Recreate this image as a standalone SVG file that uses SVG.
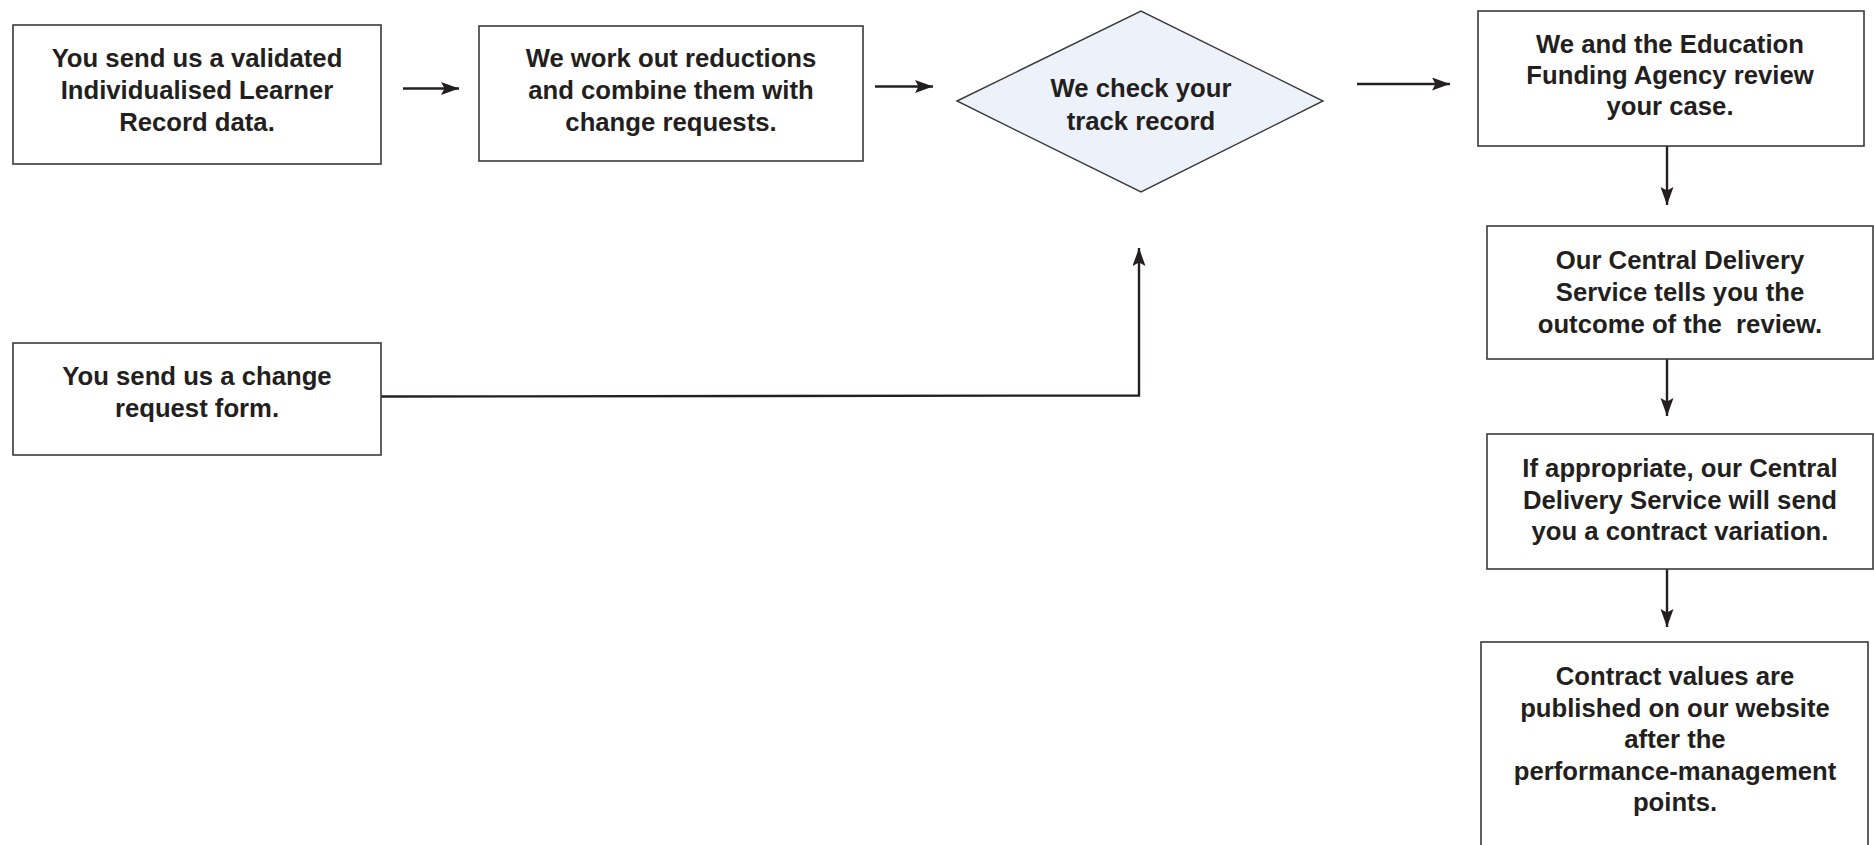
<svg xmlns="http://www.w3.org/2000/svg" width="1874" height="845" viewBox="0 0 1874 845">
<style>
.box{fill:#ffffff;stroke:#3a3a3a;stroke-width:1.6}
.dia{fill:#edf1f9;stroke:#3a3a3a;stroke-width:1.4}
.t{font-family:"Liberation Sans",Arial,Helvetica,sans-serif;font-weight:bold;font-size:25.7px;fill:#231f20;text-anchor:middle}
.c{fill:none;stroke:#231f20;stroke-width:2.4}
</style>
<defs>
<marker id="ah" markerUnits="userSpaceOnUse" markerWidth="20" markerHeight="14" refX="18" refY="6.5" orient="auto">
<path d="M0,0 L18,6.5 L0,13 L3.5,6.5 z" fill="#231f20"/>
</marker>
</defs>
<rect width="1874" height="845" fill="#ffffff"/>
<g id="connectors">
<line class="c" x1="403" y1="88.5" x2="459" y2="88.5" marker-end="url(#ah)"/>
<line class="c" x1="875" y1="86.5" x2="933" y2="86.5" marker-end="url(#ah)"/>
<line class="c" x1="1357" y1="84" x2="1450" y2="84" marker-end="url(#ah)"/>
<line class="c" x1="1667" y1="146" x2="1667" y2="205" marker-end="url(#ah)"/>
<line class="c" x1="1667" y1="359" x2="1667" y2="416" marker-end="url(#ah)"/>
<line class="c" x1="1667" y1="569" x2="1667" y2="627" marker-end="url(#ah)"/>
<polyline class="c" points="381,396.5 1139,395.5 1139,248" marker-end="url(#ah)"/>
</g>
<g id="node1">
<rect class="box" x="13" y="25" width="368" height="139"/>
<text class="t" x="197" y="67">You send us a validated</text>
<text class="t" x="197" y="99">Individualised Learner</text>
<text class="t" x="197" y="131">Record data.</text>
</g>
<g id="node2">
<rect class="box" x="479" y="26" width="384" height="135"/>
<text class="t" x="671" y="67">We work out reductions</text>
<text class="t" x="671" y="99">and combine them with</text>
<text class="t" x="671" y="131">change requests.</text>
</g>
<g id="node3">
<polygon class="dia" points="957,101 1141,11 1323,101 1141,192"/>
<text class="t" x="1141" y="97">We check your</text>
<text class="t" x="1141" y="130">track record</text>
</g>
<g id="node4">
<rect class="box" x="1478" y="11" width="386" height="135"/>
<text class="t" x="1670" y="53">We and the Education</text>
<text class="t" x="1670" y="84">Funding Agency review</text>
<text class="t" x="1670" y="115">your case.</text>
</g>
<g id="node5">
<rect class="box" x="1487" y="226" width="386" height="133"/>
<text class="t" x="1680" y="269">Our Central Delivery</text>
<text class="t" x="1680" y="301">Service tells you the</text>
<text class="t" x="1680" y="333" xml:space="preserve">outcome of the  review.</text>
</g>
<g id="node6">
<rect class="box" x="1487" y="434" width="386" height="135"/>
<text class="t" x="1680" y="477">If appropriate, our Central</text>
<text class="t" x="1680" y="509">Delivery Service will send</text>
<text class="t" x="1680" y="540">you a contract variation.</text>
</g>
<g id="node7">
<rect class="box" x="1481" y="642" width="387" height="215"/>
<text class="t" x="1675" y="685">Contract values are</text>
<text class="t" x="1675" y="717">published on our website</text>
<text class="t" x="1675" y="748">after the</text>
<text class="t" x="1675" y="780">performance-management</text>
<text class="t" x="1675" y="811">points.</text>
</g>
<g id="node8">
<rect class="box" x="13" y="343" width="368" height="112"/>
<text class="t" x="197" y="385">You send us a change</text>
<text class="t" x="197" y="417">request form.</text>
</g>
</svg>
